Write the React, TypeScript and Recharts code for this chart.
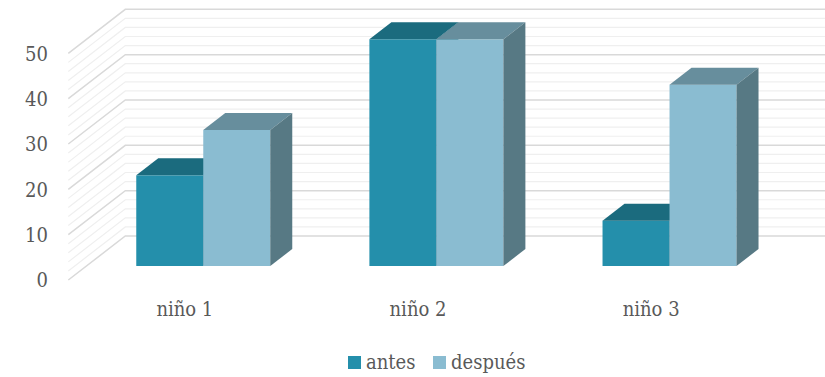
import React from "react";
import { BarChart, Bar, XAxis, YAxis, CartesianGrid, Legend } from "recharts";

const categories = ["niño 1", "niño 2", "niño 3"];
const antes = [20, 50, 10];
const despues = [30, 50, 40];
const yTicks = [0, 2, 4, 6, 8, 10, 12, 14, 16, 18, 20, 22, 24, 26, 28, 30, 32, 34, 36, 38, 40, 42, 44, 46, 48, 50];
const yLabels = [0, 10, 20, 30, 40, 50];

const data = categories.map((c, i) => ({ name: c, antes: antes[i], despues: despues[i] }));

const FONT = '"DejaVu Serif", serif';
const FS = 20;
const TEXT = "#595959";
const W = 825;
const H = 377;
// perspective offsets
const FRONT_DX = -18;
const FRONT_DY = 14;
const BACK_DX = 39;
const BACK_DY = -30;
const BAR_DX = 22;
const BAR_DY = -17;

const makeShape = (front: string, top: string, side: string) => (props: any) => {
  const { x, y, width, height } = props;
  if (width == null || height == null) return null;
  const x2 = x + width;
  const yb = y + height;
  return (
    <g>
      <rect x={x} y={y} width={width} height={height} fill={front} />
      <polygon
        points={`${x},${y} ${x + BAR_DX},${y + BAR_DY} ${x2 + BAR_DX},${y + BAR_DY} ${x2},${y}`}
        fill={top}
      />
      <polygon
        points={`${x2},${y} ${x2 + BAR_DX},${y + BAR_DY} ${x2 + BAR_DX},${yb + BAR_DY} ${x2},${yb}`}
        fill={side}
      />
    </g>
  );
};

const gridLine = (props: any) => {
  const { x1, y1, index } = props;
  const major = index % 5 === 0;
  const pts = `${x1 + FRONT_DX},${y1 + FRONT_DY} ${x1 + BACK_DX},${y1 + BACK_DY} ${W},${y1 + BACK_DY}`;
  return (
    <polyline
      key={`g-${index}`}
      points={pts}
      fill="none"
      stroke={major ? "#d9d9d9" : "#efefef"}
      strokeWidth={major ? 1.5 : 1.2}
    />
  );
};

const textStyle: React.CSSProperties = { fontFamily: FONT, fontSize: FS, fill: TEXT, fontStretch: "condensed" };

const YTick = (props: any) => {
  const { y, payload } = props;
  if (!yLabels.includes(payload.value)) return null;
  return (
    <text x={48} y={y + FRONT_DY} dy="0.36em" textAnchor="end" style={textStyle}>
      {payload.value}
    </text>
  );
};

const XTick = (props: any) => {
  const { x, payload } = props;
  return (
    <text x={x + FRONT_DX} y={316} textAnchor="middle" style={textStyle}>
      {payload.value}
    </text>
  );
};

const LegendContent = () => (
  <div
    style={{
      position: "relative",
      height: 30,
      width: W,
      fontFamily: FONT,
      fontSize: FS,
      fontStretch: "condensed",
      color: TEXT,
    }}
  >
    <div style={{ position: "absolute", left: 348, top: 9, width: 13, height: 13, background: "#248fab" }} />
    <div style={{ position: "absolute", left: 366, top: 0, lineHeight: "30px" }}>antes</div>
    <div style={{ position: "absolute", left: 433, top: 9, width: 13, height: 13, background: "#8abcd1" }} />
    <div style={{ position: "absolute", left: 451, top: 0, lineHeight: "30px" }}>después</div>
  </div>
);

export default function App() {
  return (
    <div style={{ position: "absolute", left: 0, top: 0, width: W, height: H, background: "#fff", fontFamily: FONT }}>
      <BarChart
        width={W}
        height={H}
        data={data}
        margin={{ top: 39.3, right: 39.3, left: 0, bottom: 0 }}
        barCategoryGap="21.43%"
        barGap={0}
      >
        <CartesianGrid vertical={false} horizontal={gridLine} />
        <YAxis
          domain={[0, 50]}
          ticks={yTicks}
          interval={0}
          width={86.3}
          axisLine={false}
          tickLine={false}
          tick={<YTick />}
        />
        <XAxis dataKey="name" height={81} axisLine={false} tickLine={false} tick={<XTick />} interval={0} />
        <Legend
          verticalAlign="bottom"
          align="left"
          content={<LegendContent />}
          wrapperStyle={{ left: 0, width: W, height: 30 }}
        />
        <Bar dataKey="antes" name="antes" fill="#248fab" isAnimationActive={false} shape={makeShape("#248fab", "#1b6b7e", "#1b6b7e")} />
        <Bar dataKey="despues" name="después" fill="#8abcd1" isAnimationActive={false} shape={makeShape("#8abcd1", "#678e9d", "#577984")} />
      </BarChart>
    </div>
  );
}
